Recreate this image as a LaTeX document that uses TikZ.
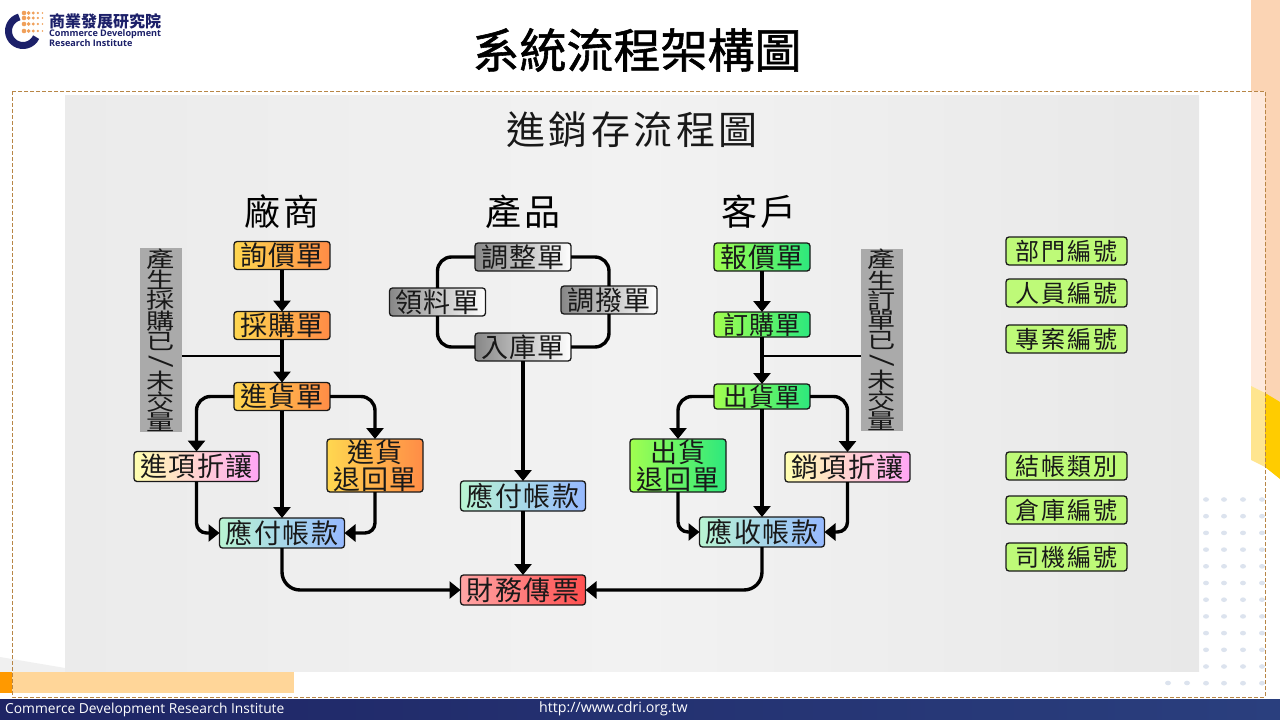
\documentclass[tikz,border=0pt]{standalone}
\usepackage{fontspec}
\usepackage{xcolor}
\usepackage{tikz}
\usetikzlibrary{arrows.meta, positioning}
\setmainfont{Noto Sans CJK TC}
\newfontfamily\noteFont[FakeStretch=1.28]{Noto Sans CJK TC}
\newfontfamily\latinFont{Open Sans}
\newcommand{\noteSlash}{\rotatebox[origin=c]{-90}{\fontsize{25}{14}\selectfont /}}
\definecolor{ink}{RGB}{25,25,25}
\definecolor{panelLeft}{RGB}{235,235,235}
\definecolor{panelMid}{RGB}{242,242,242}
\definecolor{panelRight}{RGB}{232,232,232}
\definecolor{frameLine}{RGB}{184,134,70}
\definecolor{peachDark}{RGB}{251,212,180}
\definecolor{peachLight}{RGB}{254,233,220}
\definecolor{yellowDark}{RGB}{255,204,0}
\definecolor{yellowLight}{RGB}{255,229,143}
\definecolor{orangeDark}{RGB}{255,153,0}
\definecolor{orangeLight}{RGB}{255,214,153}
\definecolor{navyLeft}{RGB}{30,36,100}
\definecolor{navyRight}{RGB}{42,63,126}
\definecolor{dotFill}{RGB}{220,227,238}
\definecolor{wedgeFill}{RGB}{240,240,240}
\definecolor{logoBlue}{RGB}{28,32,105}
\definecolor{logoOrange}{RGB}{240,160,90}
\definecolor{noteFill}{RGB}{170,170,170}
\definecolor{codeFill}{RGB}{190,250,120}
\definecolor{vendorLeft}{RGB}{255,215,80}
\definecolor{vendorRight}{RGB}{255,140,70}
\definecolor{clientLeft}{RGB}{160,255,80}
\definecolor{clientRight}{RGB}{45,232,125}
\definecolor{rebateLeft}{RGB}{255,255,175}
\definecolor{rebateRight}{RGB}{255,165,245}
\definecolor{accountLeft}{RGB}{185,245,210}
\definecolor{accountRight}{RGB}{150,185,255}
\definecolor{financeLeft}{RGB}{255,165,165}
\definecolor{financeRight}{RGB}{255,80,80}
\definecolor{stockLeft}{RGB}{135,135,135}
\tikzset{
  docbox/.style={
    draw=ink,
    line width=1.3pt,
    rounded corners=3pt,
    align=center,
    inner sep=0pt,
    outer sep=0pt,
    minimum width=96pt,
    minimum height=28pt,
    text=ink,
    font=\fontsize{27}{27}\selectfont\addfontfeature{LetterSpace=5}
  },
  wideBox/.style={docbox, minimum width=125pt, minimum height=30pt},
  tallBox/.style={docbox, minimum height=53pt},
  vendorNode/.style={left color=vendorLeft, right color=vendorRight},
  clientNode/.style={left color=clientLeft, right color=clientRight},
  stockNode/.style={left color=stockLeft, right color=white},
  rebateNode/.style={wideBox, left color=rebateLeft, right color=rebateRight},
  accountNode/.style={wideBox, left color=accountLeft, right color=accountRight},
  financeNode/.style={wideBox, left color=financeLeft, right color=financeRight},
  codeNode/.style={docbox, fill=codeFill, minimum width=121pt,
    font=\fontsize{24}{24}\selectfont\addfontfeature{LetterSpace=9}},
  noteNode/.style={fill=noteFill, inner sep=0pt, outer sep=0pt, minimum width=42pt,
    minimum height=178pt, align=center, text=ink, font=\noteFont\fontsize{22}{19.8}\selectfont},
  heading/.style={inner sep=0pt, text=black, font=\fontsize{36}{36}\selectfont\addfontfeature{LetterSpace=6}},
  flow/.style={-{Triangle[length=11pt,width=17pt]}, line width=3.4pt, draw=black, rounded corners=14pt},
  ring/.style={line width=3.4pt, draw=black, rounded corners=14pt},
  tap/.style={line width=2.4pt, draw=black}
}
\begin{document}
\begin{tikzpicture}[x=1pt, y=-1pt]
  \useasboundingbox (0,0) rectangle (1280,720);
  \fill[white] (0,0) rectangle (1280,720);

  \fill[peachDark] (1251,0) -- (1280,0) -- (1280,402) -- (1265,395) -- (1265,91) -- (1251,91) -- cycle;
  \fill[peachLight] (1251,91) -- (1265,91) -- (1265,393) -- (1251,386) -- cycle;
  \fill[yellowLight] (1251,386) -- (1265,393) -- (1265,467) -- (1251,460) -- cycle;
  \fill[yellowDark] (1265,393) -- (1280,402) -- (1280,479) -- (1265,467) -- cycle;
  \fill[wedgeFill] (0,657) -- (65,668) -- (65,672) -- (0,672) -- cycle;
  \fill[orangeDark] (0,672) rectangle (12,693);
  \fill[orangeLight] (12,672) rectangle (294,693);
  \foreach \py in {0,...,11} {
    \foreach \px in {1206,1224,1243,1262} {
      \fill[dotFill] (\px,499.5+\py*16.7) ellipse[x radius=3pt, y radius=2.3pt];
    }
  }
  \foreach \px in {1168,1187} {
    \fill[dotFill] (\px,683) ellipse[x radius=3pt, y radius=2.3pt];
  }
  \shade[left color=panelLeft, right color=panelRight, middle color=panelMid] (65,95) rectangle (1199,671);
  \draw[frameLine, line width=.8pt, dash pattern=on 4pt off 2pt] (12,91) rectangle (1265,697);
  \shade[left color=navyLeft, right color=navyRight] (0,699) rectangle (1280,720);

  \draw[logoBlue, line width=7pt] (19.25,17) arc[start angle=105, end angle=335, radius=14.5pt];
  \foreach \row/\py in {0/13,1/18,2/24,3/31} {
    \foreach \col in {0,...,4} {
      \fill[logoOrange] (24+4.6*\col,\py) circle[radius=2.3pt-0.36pt*\col];
    }
  }
  \node[anchor=west, inner sep=0pt, text=logoBlue, font=\fontsize{16}{17}\selectfont\bfseries] (logoName) at (49,21) {商業發展研究院};
  \node[anchor=west, inner sep=0pt, text=logoBlue, align=left, font=\latinFont\fontsize{9.1}{8.4}\selectfont\bfseries] (logoEnglish) at (49,38) {Commerce Development\\Research Institute};

  \node[inner sep=0pt, text=black, font=\fontsize{47}{50}\selectfont\addfontfeature{FakeBold=1.2}] (title) at (637,50) {系統流程架構圖};
  \node[inner sep=0pt, text=ink, font=\fontsize{39}{40}\selectfont\addfontfeature{LetterSpace=9}] (flowTitle) at (632,130) {進銷存流程圖};
  \node[heading] (vendorHead) at (282,212) {廠商};
  \node[heading] (productHead) at (523,212) {產品};
  \node[heading] (clientHead) at (759,212) {客戶};

  \node[docbox, vendorNode] (inquiry) at (282,255.5) {詢價單};
  \node[docbox, vendorNode, below=42pt of inquiry] (purchase) {採購單};
  \node[docbox, vendorNode, below=43pt of purchase] (goodsIn) {進貨單};
  \node[rebateNode] (rebateIn) at (196.5,466.5) {進項折讓};
  \node[tallBox, vendorNode] (returnIn) at (375,465.5) {進貨\\退回單};
  \node[accountNode] (payable) at (282,533) {應付帳款};
  \node[noteNode] (purchaseNote) at (161,340) {產\\生\\採\\購\\已\\\noteSlash\\未\\交\\量};

  \node[docbox, stockNode] (adjust) at (523,257) {調整單};
  \node[docbox, stockNode] (pick) at (437.5,302) {領料單};
  \node[docbox, stockNode] (transfer) at (609,300) {調撥單};
  \node[docbox, stockNode] (stockIn) at (523,347) {入庫單};
  \node[accountNode] (midPayable) at (523,496) {應付帳款};
  \node[financeNode] (voucher) at (523,590) {財務傳票};

  \node[docbox, clientNode] (quote) at (762,257) {報價單};
  \node[docbox, clientNode, minimum height=25pt, font=\fontsize{25}{25}\selectfont\addfontfeature{LetterSpace=5}, below=41pt of quote] (order) {訂購單};
  \node[docbox, clientNode, minimum height=25pt, font=\fontsize{25}{25}\selectfont\addfontfeature{LetterSpace=5}, below=47pt of order] (goodsOut) {出貨單};
  \node[tallBox, clientNode] (returnOut) at (678,465.5) {出貨\\退回單};
  \node[rebateNode] (rebateOut) at (847.5,467) {銷項折讓};
  \node[accountNode] (receivable) at (762,532) {應收帳款};
  \node[noteNode] (orderNote) at (882,340) {產\\生\\訂\\單\\已\\\noteSlash\\未\\交\\量};

  \node[codeNode] (dept) at (1066.5,251) {部門編號};
  \node[codeNode, below=14pt of dept] (staff) {人員編號};
  \node[codeNode, below=18pt of staff] (project) {專案編號};
  \node[codeNode] (billing) at (1066.5,466) {結帳類別};
  \node[codeNode, below=16pt of billing] (warehouse) {倉庫編號};
  \node[codeNode, below=19pt of warehouse] (driver) {司機編號};

  \node[anchor=west, inner sep=0pt, text=white, font=\latinFont\fontsize{13.8}{15}\selectfont] (footerName) at (5,710) {Commerce Development Research Institute};
  \node[anchor=west, inner sep=0pt, text=white, font=\latinFont\fontsize{14.2}{15}\selectfont] (footerUrl) at (539,708.5) {http://www.cdri.org.tw};

  \coordinate (purchaseTap) at (282,356);
  \coordinate (orderTap) at (762,356);

  \draw[flow] (inquiry) -- (purchase);
  \draw[flow] (purchase) -- (goodsIn);
  \draw[tap] (purchaseNote.east |- purchaseTap) -- (purchaseTap);
  \draw[flow] (goodsIn.west) -| (rebateIn.north);
  \draw[flow] (goodsIn.east) -| (returnIn.north);
  \draw[flow] (goodsIn) -- (payable);
  \draw[flow, rounded corners=10pt] (rebateIn.south) |- (payable.west);
  \draw[flow, rounded corners=10pt] (returnIn.south) |- (payable.east);
  \draw[flow, rounded corners=18pt] (payable.south) |- (voucher.west);

  \draw[ring] (adjust.west) -| (pick.north);
  \draw[ring] (pick.south) |- (stockIn.west);
  \draw[ring] (adjust.east) -| (transfer.north);
  \draw[ring] (transfer.south) |- (stockIn.east);
  \draw[flow] (stockIn) -- (midPayable);
  \draw[flow] (midPayable) -- (voucher);

  \draw[flow] (quote) -- (order);
  \draw[flow] (order) -- (goodsOut);
  \draw[tap] (orderNote.west |- orderTap) -- (orderTap);
  \draw[flow] (goodsOut.west) -| (returnOut.north);
  \draw[flow] (goodsOut.east) -| (rebateOut.north);
  \draw[flow] (goodsOut) -- (receivable);
  \draw[flow, rounded corners=10pt] (returnOut.south) |- (receivable.west);
  \draw[flow, rounded corners=10pt] (rebateOut.south) |- (receivable.east);
  \draw[flow, rounded corners=18pt] (receivable.south) |- (voucher.east);
\end{tikzpicture}
\end{document}
